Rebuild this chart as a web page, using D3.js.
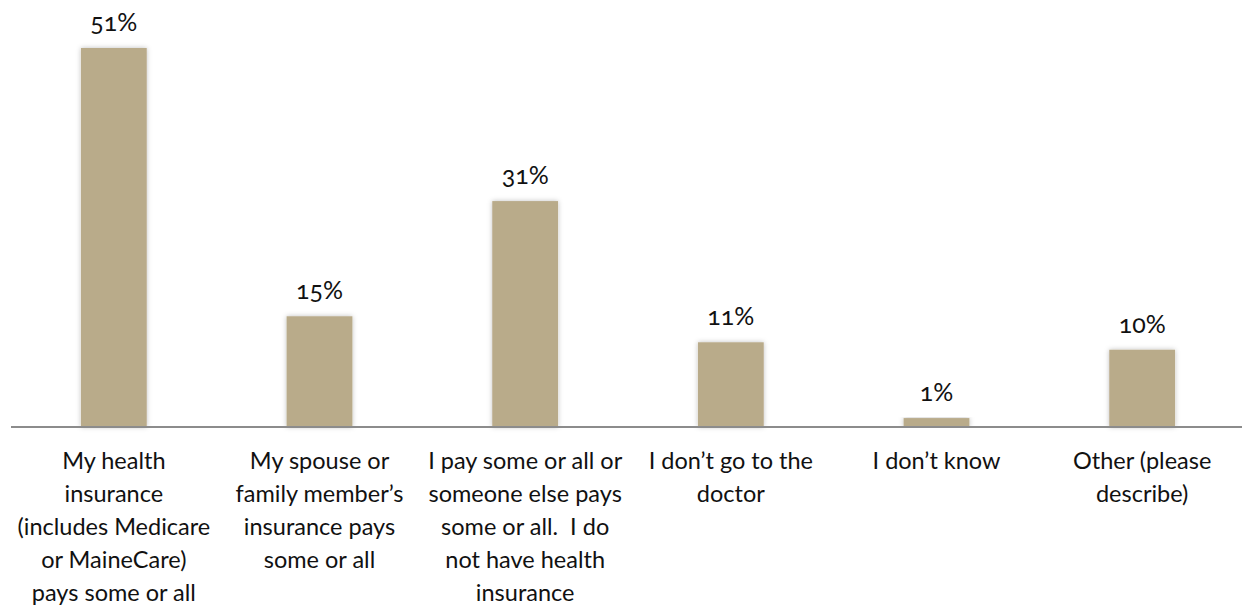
<!DOCTYPE html>
<html>
<head>
<meta charset="utf-8">
<script src="https://cdn.jsdelivr.net/npm/d3@7"></script>
<style>
  html, body { margin: 0; padding: 0; background: #fff; }
  svg text { font-family: Lato, "Open Sans", sans-serif; fill: #111; font-variant-numeric: oldstyle-nums; }
</style>
</head>
<body>
<svg id="chart" width="1242" height="609"></svg>
<script>
const categories = [
  ["My health", "insurance", "(includes Medicare", "or MaineCare)", "pays some or all"],
  ["My spouse or", "family member\u2019s", "insurance pays", "some or all"],
  ["I pay some or all or", "someone else pays", "some or all.  I do", "not have health", "insurance"],
  ["I don\u2019t go to the", "doctor"],
  ["I don\u2019t know"],
  ["Other (please", "describe)"]
];
// bar heights (percent)
const values = [51, 14.9, 30.4, 11.4, 1.2, 10.4];
const valueLabels = ["51%", "15%", "31%", "11%", "1%", "10%"];

const svg = d3.select("#chart");
const baseY = 427;

const x = d3.scaleBand()
  .domain(d3.range(categories.length))
  .range([11, 1245])
  .paddingInner(0.68)
  .paddingOuter(0.34);

const y = d3.scaleLinear().domain([0, 51]).range([baseY, 48]);

const defs = svg.append("defs");
const f = defs.append("filter").attr("id", "shadow").attr("x", "-30%").attr("y", "-10%").attr("width", "160%").attr("height", "120%");
f.append("feDropShadow").attr("dx", 0).attr("dy", 0).attr("stdDeviation", 2.5).attr("flood-color", "#000").attr("flood-opacity", 0.25);

svg.selectAll("rect.bar")
  .data(values)
  .join("rect")
  .attr("class", "bar")
  .attr("x", (d, i) => x(i))
  .attr("width", x.bandwidth())
  .attr("y", d => y(d))
  .attr("height", d => baseY - y(d))
  .attr("fill", "#B9AB8A")
  .attr("filter", "url(#shadow)");

// axis line
const axis = svg.append("g").attr("transform", `translate(0,${baseY})`)
  .call(d3.axisBottom(x).tickSize(0).tickFormat(""));
axis.select(".domain").attr("stroke", "#8c8c8c").attr("stroke-width", 2)
  .attr("d", "M11,0H1242");

// value labels
svg.selectAll("text.val")
  .data(values)
  .join("text")
  .attr("class", "val")
  .attr("x", (d, i) => x(i) + x.bandwidth() / 2)
  .attr("y", d => y(d) - 17)
  .attr("text-anchor", "middle")
  .style("font-size", "25px")
  .text((d, i) => valueLabels[i]);

// category labels
const lineH = 33;
const cat = svg.selectAll("text.cat")
  .data(categories)
  .join("text")
  .attr("class", "cat")
  .attr("text-anchor", "middle")
  .style("font-size", "23.5px")
  .attr("transform", (d, i) => `translate(${x(i) + x.bandwidth() / 2},${baseY + 42})`);
cat.selectAll("tspan")
  .data(d => d)
  .join("tspan")
  .attr("x", 0)
  .attr("y", (d, j) => j * lineH)
  .style("white-space", "pre")
  .text(d => d);
</script>
</body>
</html>
